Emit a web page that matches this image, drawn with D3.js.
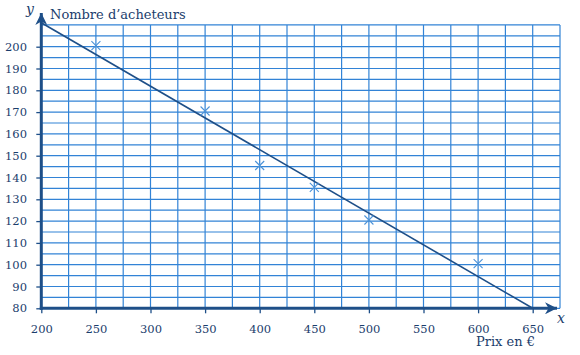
<!DOCTYPE html>
<html><head><meta charset="utf-8">
<script src="https://cdn.jsdelivr.net/npm/d3@7/dist/d3.min.js"></script>
<style>body{margin:0;background:#fff}svg{display:block}</style>
</head><body>
<script>
// Data
const xTicks = [200, 250, 300, 350, 400, 450, 500, 550, 600, 650];
const yTicks = [80, 90, 100, 110, 120, 130, 140, 150, 160, 170, 180, 190, 200];
const prices = [250, 350, 400, 450, 500, 600];
const buyers = [200.5, 170.5, 145.5, 135.5, 120.5, 100.5];
const trendX = [200, 650];
const trendY = [211, 80];
const xLabel = "Prix en €";
const yLabel = "Nombre d\u2019acheteurs";

const W = 580, H = 355;
const gridColor = "#3283d6", axisColor = "#1e4f88", textColor = "#1b3d6c", markColor = "#4d93d8";
const svg = d3.select("body").append("svg").attr("width", W).attr("height", H);

const x = d3.scaleLinear().domain([200, 650]).range([41.3, 532.7]);
const y = d3.scaleLinear().domain([80, 200]).range([308.3, 46.7]);
const xMax = 675, yMax = 210;

// grid
const g = svg.append("g");
g.selectAll("line.v").data(d3.range(200, xMax + 1, 25)).join("line")
  .attr("x1", d => x(d)).attr("x2", d => x(d)).attr("y1", y(80)).attr("y2", y(yMax))
  .attr("stroke", gridColor).attr("stroke-width", 1.2);
g.selectAll("line.h").data(d3.range(80, yMax + 1, 5)).join("line")
  .attr("y1", d => y(d)).attr("y2", d => y(d)).attr("x1", x(200)).attr("x2", x(xMax))
  .attr("stroke", gridColor).attr("stroke-width", 1.2);

// axes (ticks + labels)
const font = "'DejaVu Serif', serif";
const ax = svg.append("g").attr("transform", `translate(0,${y(80)})`)
  .call(d3.axisBottom(x).tickValues(xTicks).tickSize(5).tickPadding(11.4));
const ay = svg.append("g").attr("transform", `translate(${x(200)},0)`)
  .call(d3.axisLeft(y).tickValues(yTicks).tickSize(5).tickPadding(9.3));
[ax, ay].forEach(a => {
  a.select(".domain").remove();
  a.selectAll(".tick line").attr("stroke", axisColor).attr("stroke-width", 1.3);
  a.selectAll(".tick text").attr("fill", textColor).style("font-family", font).style("font-size", "11.5px");
});

// axis lines with arrows
const defs = svg.append("defs");
defs.append("marker").attr("id", "arr").attr("viewBox", "0 0 10 10").attr("refX", 10).attr("refY", 5)
  .attr("markerWidth", 4).attr("markerHeight", 4).attr("markerUnits", "strokeWidth").attr("orient", "auto")
  .append("path").attr("d", "M0,0 L10,5 L0,10 L3,5 Z").attr("fill", axisColor);
svg.append("line").attr("x1", x(200) - 1.5).attr("x2", 557).attr("y1", y(80)).attr("y2", y(80))
  .attr("stroke", axisColor).attr("stroke-width", 3).attr("marker-end", "url(#arr)");
svg.append("line").attr("x1", x(200)).attr("x2", x(200)).attr("y1", y(80) + 1.5).attr("y2", 13)
  .attr("stroke", axisColor).attr("stroke-width", 3).attr("marker-end", "url(#arr)");

// trend line
svg.append("line").attr("x1", x(trendX[0])).attr("y1", y(trendY[0]))
  .attr("x2", x(trendX[1])).attr("y2", y(trendY[1]))
  .attr("stroke", axisColor).attr("stroke-width", 1.6);

// markers
const s = 4.5;
const pts = svg.append("g").selectAll("g").data(prices.map((p, i) => [p, buyers[i]])).join("g")
  .attr("transform", d => `translate(${x(d[0])},${y(d[1])})`);
pts.append("path").attr("d", `M${-s},${-s}L${s},${s}M${-s},${s}L${s},${-s}`)
  .attr("stroke", markColor).attr("stroke-width", 1.1).attr("fill", "none");

// labels
svg.append("text").attr("x", 26).attr("y", 14).text("y")
  .attr("fill", textColor).style("font-family", font).style("font-style", "italic").style("font-size", "14px");
svg.append("text").attr("x", 50).attr("y", 19).text(yLabel)
  .attr("fill", textColor).style("font-family", font).style("font-size", "13px");
svg.append("text").attr("x", 557).attr("y", 323).text("x")
  .attr("fill", textColor).style("font-family", font).style("font-style", "italic").style("font-size", "14px");
svg.append("text").attr("x", 535).attr("y", 346).attr("text-anchor", "end").text(xLabel)
  .attr("fill", textColor).style("font-family", font).style("font-size", "13px");
</script>
</body></html>
